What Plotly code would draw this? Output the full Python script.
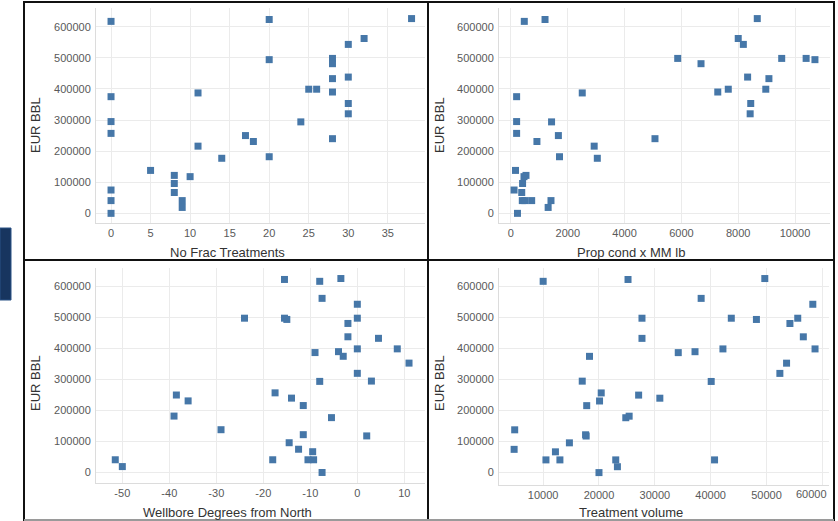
import plotly.graph_objects as go

W, H = 838, 521

# ---- data ----
frac_x = [0, 0, 0, 0, 0, 0, 0, 5, 8, 8, 8, 9, 9, 10, 11, 11, 14, 17, 18, 20, 20, 20,
          24, 25, 26, 28, 28, 28, 28, 28, 30, 30, 30, 30, 32, 38]
frac_eur = [617000, 375000, 295000, 257000, 75000, 41000, 0, 138000, 122000, 96000, 67000,
            41000, 19000, 118000, 387000, 216000, 177000, 250000, 231000, 623000, 494000,
            182000, 294000, 399000, 399000, 498000, 481000, 433000, 390000, 240000, 543000,
            438000, 353000, 320000, 562000, 626000]

prop_x = [470, 1200, 8670, 8000, 8180, 5870, 6690, 7280, 7650, 8330, 8440, 8420, 9080, 8970,
          9530, 10390, 10700, 200, 200, 200, 2510, 1430, 1670, 915, 2930, 1710, 3040, 5070,
          160, 530, 460, 410, 110, 380, 400, 490, 730, 1410, 1310, 230]
prop_eur = [617000, 623000, 626000, 562000, 543000, 498000, 481000, 390000, 399000, 438000,
            353000, 320000, 433000, 399000, 498000, 498000, 494000, 375000, 295000, 257000,
            387000, 294000, 250000, 231000, 216000, 182000, 177000, 240000, 138000, 122000,
            118000, 96000, 75000, 67000, 41000, 41000, 41000, 41000, 19000, 0]

deg_x = [-51.5, -50, -38.5, -36, -39, -29, -24, -18, -17.5, -15.5, -15.5, -15, -14, -14.5,
         -12.5, -11.5, -11.5, -10.5, -9.5, -9, -9.3, -8, -8, -7.5, -7.5, -5.5, -4, -3.5, -3,
         -2, -2, 0, 0, 0, 0, 2, 3, 4.5, 8.5, 11]
deg_eur = [41000, 19000, 250000, 231000, 182000, 138000, 498000, 41000, 257000, 623000,
           498000, 494000, 240000, 96000, 75000, 216000, 122000, 41000, 67000, 387000, 41000,
           617000, 294000, 0, 562000, 177000, 390000, 626000, 375000, 481000, 438000, 543000,
           498000, 399000, 320000, 118000, 295000, 433000, 399000, 353000]

vol_x = [10000, 25200, 49700, 38300, 58300, 27700, 43700, 48200, 54200, 55600, 56600, 27700,
         34200, 37200, 42200, 58700, 53600, 52400, 40100, 18300, 17000, 20400, 27100, 30900,
         20100, 17800, 24800, 25400, 4900, 4800, 17600, 17700, 14700, 12200, 10500, 13000,
         23000, 23300, 20000, 40700]
vol_eur = [617000, 623000, 626000, 562000, 543000, 498000, 498000, 494000, 481000, 498000,
           438000, 433000, 387000, 390000, 399000, 399000, 353000, 320000, 294000, 375000,
           295000, 257000, 250000, 240000, 231000, 216000, 177000, 182000, 138000, 75000,
           122000, 118000, 96000, 67000, 41000, 41000, 41000, 19000, 0, 41000]

x_titles = ["No Frac Treatments", "Prop cond x MM lb", "Wellbore Degrees from North",
            "Treatment volume"]
y_title = "EUR BBL"
y_ticks = [0, 100000, 200000, 300000, 400000, 500000, 600000]
deg_ticks = [-50, -40, -30, -20, -10, 0, 10]
deg_tick_labels = ["-50", "-40", "-30", "-20", "-10", "0", "10"]
vol_ticks = [10000, 20000, 30000, 40000, 50000, 60000]
vol_tick_labels = ["10000", "20000", "30000", "40000", "50000", ""]
vol_last_label = "60000"   # drawn pulled inside the panel edge, as in the source

# ---- layout helpers (pixel -> paper) ----
def px(x):
    return x / W

def py(y):
    return 1 - y / H

MARK = "#4677a8"
FONT = "Liberation Sans, Arial, sans-serif"
TICK_FONT = dict(family=FONT, size=11, color="#595959")

fig = go.Figure()
series = [(frac_x, frac_eur), (prop_x, prop_eur), (deg_x, deg_eur), (vol_x, vol_eur)]
for i, (xs, ys) in enumerate(series):
    suf = "" if i == 0 else str(i + 1)
    fig.add_trace(go.Scatter(
        x=xs, y=ys, mode="markers", xaxis="x" + suf, yaxis="y" + suf,
        marker=dict(symbol="square", size=7, color=MARK, line=dict(width=0)),
        showlegend=False, hoverinfo="x+y"))

# plot areas in pixels: (left, right, top, bottom)
areas = [(96, 425, 8, 223), (499, 830, 8, 223), (96, 425, 268, 483), (499, 829, 268, 485)]
x_ranges = [[-1.9, 39.7], [-420, 11230], [-55.6, 14.4], [2090, 61200]]
x_dticks = [5, 2000, 10, 10000]
y_ranges = [[-31000, 660000], [-31000, 660000], [-34000, 660000], [-40000, 660000]]

axis_common = dict(
    showgrid=True, gridcolor="#ebebeb", gridwidth=1, zeroline=False,
    showline=True, linecolor="#dcdcdc", linewidth=1, mirror=False,
    tickfont=TICK_FONT, ticklabeloverflow="allow", automargin=False,
)

layout = dict(
    width=W, height=H, margin=dict(l=0, r=0, t=0, b=0, autoexpand=False),
    paper_bgcolor="white", plot_bgcolor="white", showlegend=False,
)
for i in range(4):
    l, r, t, b = areas[i]
    suf = "" if i == 0 else str(i + 1)
    xa = dict(axis_common)
    xa.update(domain=[px(l), px(r)], range=x_ranges[i], dtick=x_dticks[i], tick0=0,
              tickformat="d", anchor="y" + suf, ticks="")
    if i == 2:
        xa.update(tickmode="array", tickvals=deg_ticks, ticktext=deg_tick_labels)
    if i == 3:
        xa.update(tickmode="array", tickvals=vol_ticks, ticktext=vol_tick_labels)
    ya = dict(axis_common)
    ya.update(domain=[py(b), py(t)], range=y_ranges[i], tickvals=y_ticks,
              tickformat="d", anchor="x" + suf,
              ticks="outside", ticklen=2, tickcolor="rgba(0,0,0,0)")
    layout["xaxis" + suf] = xa
    layout["yaxis" + suf] = ya
fig.update_layout(**layout)

# axis titles as annotations
ann = []
title_font = dict(family=FONT, size=13, color="#333333")
xt_pos = [(227, 253), (631, 253), (227, 512), (631, 512)]
yt_pos = [(35, 125), (439, 125), (35, 383), (439, 383)]
for i in range(4):
    ann.append(dict(text=x_titles[i], x=px(xt_pos[i][0]), y=py(xt_pos[i][1]),
                    xref="paper", yref="paper", xanchor="center", yanchor="middle",
                    showarrow=False, font=title_font))
    ann.append(dict(text=y_title, x=px(yt_pos[i][0]), y=py(yt_pos[i][1]),
                    xref="paper", yref="paper", xanchor="center", yanchor="middle",
                    showarrow=False, textangle=-90, font=title_font))
ann.append(dict(text=vol_last_label, x=px(828), y=py(494), xref="paper", yref="paper",
                xanchor="right", yanchor="middle", showarrow=False, font=TICK_FONT,
                borderpad=0))
fig.update_layout(annotations=ann)

# panel frames and side decoration
shapes = []
frames = [(24, 428, 2, 260), (428, 834, 2, 260), (24, 428, 260, 521), (428, 834, 260, 521)]
for (l, r, t, b) in frames:
    shapes.append(dict(type="rect", xref="paper", yref="paper",
                       x0=px(l), x1=px(r), y0=py(b), y1=py(t),
                       line=dict(color="#111111", width=2), fillcolor="rgba(0,0,0,0)"))
shapes.append(dict(type="rect", xref="paper", yref="paper",
                   x0=px(0), x1=px(11), y0=py(300), y1=py(228),
                   line=dict(color="#2a5286", width=1), fillcolor="#17355f"))
shapes.append(dict(type="line", xref="paper", yref="paper",
                   x0=px(24), x1=px(834), y0=py(520), y1=py(520),
                   line=dict(color="#9a9a9a", width=2)))
fig.update_layout(shapes=shapes)

fig.write_html("out.html")
